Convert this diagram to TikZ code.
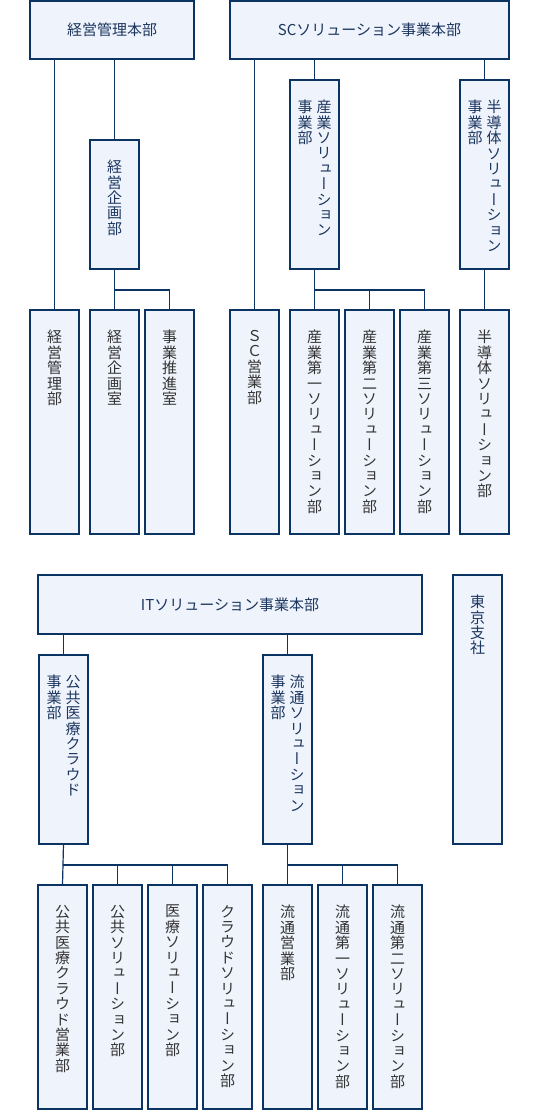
\documentclass[tikz,border=0pt]{standalone}
\usepackage{fontspec}
\newfontfamily\jp{Noto Sans CJK JP}
\newfontfamily\vjp[RawFeature=+vert]{Noto Sans CJK JP}
\definecolor{bd}{HTML}{0B3463}
\definecolor{bg}{HTML}{EFF3FC}
\definecolor{nv}{HTML}{1B365F}
\definecolor{gr}{HTML}{333333}
\newcommand\vc[1]{\parbox[t]{15pt}{\centering #1}}
\newcommand\bx[5]{\node[box,anchor=north west,minimum width={#4-#2},minimum height={#5-#3}] (#1) at (#2,#3) {};}
\newcommand\tx[3]{\node[#2] (#1-t) at ([yshift=-20pt]#1.north) {#3};}
\tikzset{
  box/.style={draw=bd, fill=bg, line width=1.2pt, inner sep=0pt, outer sep=0pt},
  ht/.style={font=\jp\fontsize{15}{15.4}\selectfont, text=nv, inner sep=0pt},
  vtn/.style={font=\vjp\fontsize{15}{15.4}\selectfont, text=nv, inner sep=0pt, anchor=north},
  vtg/.style={vtn, text=gr},
  ln/.style={draw=bd, line width=1.2pt}
}
\begin{document}
\begin{tikzpicture}[x=1pt,y=-1pt]
\useasboundingbox (0,0) rectangle (540,1110);
% boxes
\bx{hq1}{30}{1}{194}{59}
\bx{hq2}{230}{1}{509}{59}
\bx{kp}{90}{140}{139}{269}
\bx{sp}{290}{80}{339}{269}
\bx{hp}{460}{80}{509}{269}
\bx{b1}{30}{310}{79}{534}
\bx{b2}{90}{310}{139}{534}
\bx{b3}{145}{310}{194}{534}
\bx{b4}{230}{310}{279}{534}
\bx{b5}{290}{310}{339}{534}
\bx{b6}{345}{310}{394}{534}
\bx{b7}{400}{310}{449}{534}
\bx{b8}{460}{310}{509}{534}
\bx{hq3}{38}{575}{422}{634}
\bx{tk}{453}{575}{502}{844}
\bx{pp}{39}{655}{88}{844}
\bx{rp}{263}{655}{312}{844}
\bx{c1}{38}{885}{87}{1109}
\bx{c2}{93}{885}{142}{1109}
\bx{c3}{148}{885}{197}{1109}
\bx{c4}{203}{885}{252}{1109}
\bx{c5}{263}{885}{312}{1109}
\bx{c6}{318}{885}{367}{1109}
\bx{c7}{373}{885}{422}{1109}
% texts
\node[ht] (hq1-t) at (hq1.center) {経営管理本部};
\node[ht] (hq2-t) at (hq2.center) {SCソリューション事業本部};
\node[ht] (hq3-t) at (hq3.center) {ITソリューション事業本部};
\tx{kp}{vtn}{\vc{経\\営\\企\\画\\部}}
\tx{sp}{vtn}{\vc{事\\業\\部}\hspace{4pt}\vc{産\\業\\ソ\\リ\\ュ\\ー\\シ\\ョ\\ン}}
\tx{hp}{vtn}{\vc{事\\業\\部}\hspace{4pt}\vc{半\\導\\体\\ソ\\リ\\ュ\\ー\\シ\\ョ\\ン}}
\tx{tk}{vtn}{\vc{東\\京\\支\\社}}
\tx{pp}{vtn}{\vc{事\\業\\部}\hspace{4pt}\vc{公\\共\\医\\療\\ク\\ラ\\ウ\\ド}}
\tx{rp}{vtn}{\vc{事\\業\\部}\hspace{4pt}\vc{流\\通\\ソ\\リ\\ュ\\ー\\シ\\ョ\\ン}}
\tx{b1}{vtg}{\vc{経\\営\\管\\理\\部}}
\tx{b2}{vtg}{\vc{経\\営\\企\\画\\室}}
\tx{b3}{vtg}{\vc{事\\業\\推\\進\\室}}
\tx{b4}{vtg}{\vc{Ｓ\\Ｃ\\営\\業\\部}}
\tx{b5}{vtg}{\vc{産\\業\\第\\一\\ソ\\リ\\ュ\\ー\\シ\\ョ\\ン\\部}}
\tx{b6}{vtg}{\vc{産\\業\\第\\二\\ソ\\リ\\ュ\\ー\\シ\\ョ\\ン\\部}}
\tx{b7}{vtg}{\vc{産\\業\\第\\三\\ソ\\リ\\ュ\\ー\\シ\\ョ\\ン\\部}}
\tx{b8}{vtg}{\vc{半\\導\\体\\ソ\\リ\\ュ\\ー\\シ\\ョ\\ン\\部}}
\tx{c1}{vtg}{\vc{公\\共\\医\\療\\ク\\ラ\\ウ\\ド\\営\\業\\部}}
\tx{c2}{vtg}{\vc{公\\共\\ソ\\リ\\ュ\\ー\\シ\\ョ\\ン\\部}}
\tx{c3}{vtg}{\vc{医\\療\\ソ\\リ\\ュ\\ー\\シ\\ョ\\ン\\部}}
\tx{c4}{vtg}{\vc{ク\\ラ\\ウ\\ド\\ソ\\リ\\ュ\\ー\\シ\\ョ\\ン\\部}}
\tx{c5}{vtg}{\vc{流\\通\\営\\業\\部}}
\tx{c6}{vtg}{\vc{流\\通\\第\\一\\ソ\\リ\\ュ\\ー\\シ\\ョ\\ン\\部}}
\tx{c7}{vtg}{\vc{流\\通\\第\\二\\ソ\\リ\\ュ\\ー\\シ\\ョ\\ン\\部}}
% connectors
\draw[ln] (b1.north) -- (b1.north |- hq1.south);
\draw[ln] (kp.north) -- (kp.north |- hq1.south);
\draw[ln] (kp.south) -- (b2.north);
\draw[ln] (b2.north) ++(0,-20) -| (b3.north);
\draw[ln] (b4.north) -- (b4.north |- hq2.south);
\draw[ln] (sp.north) -- (sp.north |- hq2.south);
\draw[ln] (hp.north) -- (hp.north |- hq2.south);
\draw[ln] (sp.south) -- (b5.north);
\draw[ln] (b5.north) ++(0,-20) -| (b6.north);
\draw[ln] (b5.north) ++(0,-20) -| (b7.north);
\draw[ln] (hp.south) -- (b8.north);
\draw[ln] (pp.north) -- (pp.north |- hq3.south);
\draw[ln] (rp.north) -- (rp.north |- hq3.south);
\draw[ln] (pp.south) -- (c1.north);
\draw[ln] (c1.north) ++(0,-20) -| (c2.north);
\draw[ln] (c1.north) ++(0,-20) -| (c3.north);
\draw[ln] (c1.north) ++(0,-20) -| (c4.north);
\draw[ln] (rp.south) -- (c5.north);
\draw[ln] (c5.north) ++(0,-20) -| (c6.north);
\draw[ln] (c5.north) ++(0,-20) -| (c7.north);
\end{tikzpicture}
\end{document}
